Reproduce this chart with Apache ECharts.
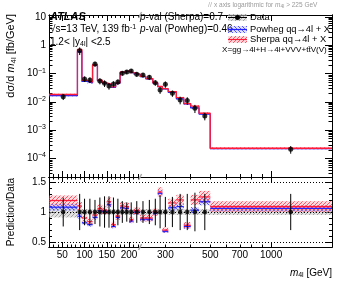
<!DOCTYPE html>
<html><head><meta charset="utf-8">
<script src="https://cdn.jsdelivr.net/npm/echarts@6/dist/echarts.min.js"></script>
<style>html,body{margin:0;padding:0;background:#fff}#c{width:349px;height:295px}</style>
</head><body><div id="c"></div>
<script>
// ---------------- data ----------------
const binEdges = [20,84,94,106,118,129,140,150,160,170,180,190,200,210,225,240,260,275,290,310,340,370,400,440,500,2000];
const dataValues = [0.0153,0.645,0.0645,0.0594,0.218,0.0548,0.0454,0.0365,0.043,0.0505,0.1025,0.114,0.124,0.094,0.089,0.074,0.0475,0.0263,0.042,0.0201,0.0117,0.0112,0.00594,0.00318,0.000211];
const dataRelErr = [0.24,0.30,0.22,0.22,0.20,0.24,0.26,0.26,0.24,0.22,0.18,0.16,0.16,0.18,0.18,0.20,0.22,0.27,0.25,0.25,0.30,0.30,0.32,0.30,0.30];
const dataSystRel = [0.09,0.05,0.05,0.05,0.05,0.05,0.05,0.05,0.05,0.05,0.05,0.05,0.05,0.05,0.05,0.05,0.05,0.05,0.05,0.05,0.05,0.05,0.05,0.05,0.05];
const sherpaRatio = [1.19,1.10,0.90,0.84,0.95,1.06,1.03,1.17,0.79,0.93,1.10,1.09,0.87,1.02,0.90,0.90,1.00,1.33,0.70,1.15,1.20,0.78,1.20,1.25,1.09];
const powhegRatio = [1.08,0.93,0.82,0.79,0.91,1.02,1.01,1.12,0.76,0.91,1.07,1.06,0.85,1.00,0.88,0.88,0.98,1.31,0.68,1.07,1.09,0.76,1.03,1.17,1.06];
const sherpaRelErr = [0.07,0.06,0.06,0.06,0.06,0.06,0.06,0.06,0.06,0.06,0.06,0.06,0.06,0.06,0.06,0.06,0.06,0.06,0.06,0.06,0.07,0.07,0.07,0.08,0.08];
const powhegRelErr = [0.05,0.04,0.04,0.04,0.04,0.04,0.04,0.04,0.04,0.04,0.04,0.04,0.04,0.04,0.04,0.04,0.04,0.04,0.04,0.04,0.05,0.05,0.05,0.05,0.05];
const xLabelValues = [50,100,150,200,300,500,700,1000];
const xMajorTicks = [50,100,150,200,1000];
const xMinorTicks = [30,40,60,70,80,90,110,120,130,140,160,170,180,190,210,220,300,400,500,600,700,800,900];
const yUpperDecades = [-4,-3,-2,-1,0,1];
const yRatioLabels = [0.5,1,1.5];
const yRatioMinor = [0.6,0.7,0.8,0.9,1.1,1.2,1.3,1.4];
const ratioRefLines = [0.5,1,1.5];

// ---------------- axis transform: linear below 225 GeV, log above ----------------
const LIN = 0.4444, M0 = 20, MB = 225, MMAX = 2000, TMAX = 283;
const TB = (MB - M0) * LIN;
const K = (TMAX - TB) / Math.log(MMAX / MB);
function tx(m){ return m <= MB ? (m - M0) * LIN : TB + K * Math.log(m / MB); }
const lg = v => Math.log10(v);

const nb = dataValues.length;
const tLo = [], tHi = [], tC = [];
for (let i = 0; i < nb; i++) { tLo.push(tx(binEdges[i])); tHi.push(tx(binEdges[i+1])); tC.push(tx((binEdges[i]+binEdges[i+1])/2)); }
const sherpaVals = dataValues.map((d,i)=>d*sherpaRatio[i]);
const powhegVals = dataValues.map((d,i)=>d*powhegRatio[i]);

function hatch(color, dir, bg){
  const c = document.createElement('canvas'); c.width = 4; c.height = 4;
  const g = c.getContext('2d');
  if (bg) { g.fillStyle = bg; g.fillRect(0,0,4,4); }
  g.strokeStyle = color; g.lineWidth = 1; g.beginPath();
  if (dir > 0) { g.moveTo(-1,5); g.lineTo(5,-1); } else { g.moveTo(-1,-1); g.lineTo(5,5); }
  g.stroke();
  return {image: c, repeat: 'repeat'};
}
const redHatch = hatch('rgba(255,40,60,0.75)', 1, 'rgba(255,150,160,0.35)');
const blueHatch = hatch('rgba(40,40,255,0.75)', -1, 'rgba(150,150,255,0.3)');
const grayHatch = hatch('rgba(120,120,120,0.6)', 1, 'rgba(200,200,200,0.5)');

const FONT = '"Liberation Sans", Arial, sans-serif';

function xAx(grid, pos, vals, len, labels){
  return {type:'value', gridIndex:grid, position:pos, min:0, max:TMAX,
    axisLine:{show:true, onZero:false, lineStyle:{color:'#000', width:1}},
    splitLine:{show:false},
    axisTick:{show:true, inside:true, length:len, customValues: vals.map(tx), lineStyle:{color:'#000', width:1}},
    axisLabel: labels ? {show:true, customValues: labels.map(tx), margin:3, fontSize:10, fontFamily:FONT, color:'#000',
      formatter: v => { for (const m of labels) if (Math.abs(tx(m)-v) < 0.01) return String(m); return ''; }} : {show:false}};
}
function yAx(grid, pos, min, max, vals, len, labels, fmt){
  return {type:'value', gridIndex:grid, position:pos, min, max,
    axisLine:{show:true, onZero:false, lineStyle:{color:'#000', width:1}},
    splitLine:{show:false},
    axisTick:{show:true, inside:true, length:len, customValues: vals, lineStyle:{color:'#000', width:1}},
    axisLabel: labels ? {show:true, customValues: labels, margin:3, fontSize:10, fontFamily:FONT, color:'#000', formatter: fmt,
      rich:{sup:{fontSize:7, fontFamily:FONT, verticalAlign:'top', padding:[0,0,6,0]}}} : {show:false}};
}
const uMin = -4.654, uMax = 1.07, rMin = 0.42, rMax = 1.58;
const upperMinor = [];
for (let k = -5; k <= 1; k++) for (let j = 2; j <= 9; j++) { const v = k + Math.log10(j); if (v > uMin && v < uMax) upperMinor.push(v); }
const upFmt = v => { const k = Math.round(v); if (k === 1) return '10'; if (k === 0) return '1'; return '10{sup|' + (k<0?'\u2212':'') + Math.abs(k) + '}'; };
const rFmt = v => String(v);

function rectSeries(xi, yi, items, fill, z){
  return {type:'custom', xAxisIndex:xi, yAxisIndex:yi, silent:true, clip:true, z,
    data: items, encode:{x:[0,1], y:[2,3]},
    renderItem(params, api){
      const a = api.coord([api.value(0), api.value(3)]);
      const b = api.coord([api.value(1), api.value(2)]);
      return {type:'rect', shape:{x:a[0], y:a[1], width:b[0]-a[0], height:b[1]-a[1]}, style:{fill, stroke:null}};
    }};
}
function segSeries(xi, yi, items, color, width, z){
  return {type:'custom', xAxisIndex:xi, yAxisIndex:yi, silent:true, clip:true, z,
    data: items, encode:{x:[0,2], y:[1,3]},
    renderItem(params, api){
      const a = api.coord([api.value(0), api.value(1)]);
      const b = api.coord([api.value(2), api.value(3)]);
      return {type:'line', shape:{x1:a[0], y1:a[1], x2:b[0], y2:b[1]}, style:{stroke:color, lineWidth:width}};
    }};
}
function stepData(vals){ const d = vals.map((v,i)=>[tLo[i], lg(v)]); d.push([tHi[nb-1], lg(vals[nb-1])]); return d; }

const series = [
  // upper panel
  rectSeries(0,0, powhegVals.map((v,i)=>[tLo[i],tHi[i],lg(v*(1-powhegRelErr[i])),lg(v*(1+powhegRelErr[i]))]), blueHatch, 1),
  rectSeries(0,0, sherpaVals.map((v,i)=>[tLo[i],tHi[i],lg(v*(1-sherpaRelErr[i])),lg(v*(1+sherpaRelErr[i]))]), redHatch, 2),
  {type:'line', xAxisIndex:0, yAxisIndex:0, step:'end', symbol:'none', silent:true, z:3, data: stepData(powhegVals), lineStyle:{color:'#2020ff', width:1.2}},
  {type:'line', xAxisIndex:0, yAxisIndex:0, step:'end', symbol:'none', silent:true, z:4, data: stepData(sherpaVals), lineStyle:{color:'#ff1a3a', width:1.3}},
  segSeries(0,0, dataValues.map((v,i)=>[tC[i], lg(v*(1-dataRelErr[i])), tC[i], lg(v*(1+dataRelErr[i]))]), '#000', 1, 5),
  {type:'scatter', xAxisIndex:0, yAxisIndex:0, silent:true, z:6, symbol:'circle', symbolSize:5, itemStyle:{color:'#000'},
    data: dataValues.map((v,i)=>[tC[i], lg(v)])},
  // lower panel
  rectSeries(4,4, dataSystRel.map((e,i)=>[tLo[i],tHi[i],1-e,1+e]), grayHatch, 1),
  rectSeries(4,4, powhegRatio.map((r,i)=>[tLo[i],tHi[i],r-powhegRelErr[i]*r,r+powhegRelErr[i]*r]), blueHatch, 2),
  rectSeries(4,4, sherpaRatio.map((r,i)=>[tLo[i],tHi[i],r-sherpaRelErr[i]*r,r+sherpaRelErr[i]*r]), redHatch, 3),
  segSeries(4,4, powhegRatio.map((r,i)=>[tLo[i], r, tHi[i], r]), '#2020ff', 1.2, 4),
  segSeries(4,4, sherpaRatio.map((r,i)=>[tLo[i], r, tHi[i], r]), '#ff1a3a', 1.2, 4),
  segSeries(4,4, dataRelErr.map((e,i)=>[tC[i], 1-e, tC[i], 1+e]), '#000', 1, 5),
  {type:'scatter', xAxisIndex:4, yAxisIndex:4, silent:true, z:6, symbol:'circle', symbolSize:4.5, itemStyle:{color:'#000'},
    data: tC.map(t=>[t,1]),
    markLine:{silent:true, symbol:'none', label:{show:false}, lineStyle:{color:'#000', width:1, type:[1,2]},
      data: ratioRefLines.map(v=>({yAxis:v}))}}
];

const grids = [{left:49, top:15, width:283, height:162}, {left:49, top:177, width:283, height:70}];
const xAxes = [
  xAx(0,'bottom',xMajorTicks,6,null), xAx(0,'bottom',xMinorTicks,3,null), xAx(0,'top',xMajorTicks,6,null), xAx(0,'top',xMinorTicks,3,null),
  xAx(1,'bottom',xMajorTicks,5,xLabelValues), xAx(1,'bottom',xMinorTicks,2.5,null), xAx(1,'top',xMajorTicks,5,null), xAx(1,'top',xMinorTicks,2.5,null)
];
const yAxes = [
  yAx(0,'left',uMin,uMax,yUpperDecades,7,yUpperDecades,upFmt), yAx(0,'left',uMin,uMax,upperMinor,3.5,null),
  yAx(0,'right',uMin,uMax,yUpperDecades,7,null), yAx(0,'right',uMin,uMax,upperMinor,3.5,null),
  yAx(1,'left',rMin,rMax,yRatioLabels,6,yRatioLabels,rFmt), yAx(1,'left',rMin,rMax,yRatioMinor,3,null),
  yAx(1,'right',rMin,rMax,yRatioLabels,6,null), yAx(1,'right',rMin,rMax,yRatioMinor,3,null)
];

const xBreak = 49 + TB;
const txt = (x, y, text, extra) => Object.assign({type:'text', x, y, silent:true, z:100,
  style:Object.assign({text, font:'10px ' + FONT, fill:'#000', verticalAlign:'middle'}, extra||{})});
const mkRich = fs => ({i:{fontStyle:'italic', fontSize:fs, fontFamily:FONT}, sub:{fontSize:fs*0.7, fontFamily:FONT, padding:[5,0,0,0]}, sup:{fontSize:fs*0.7, fontFamily:FONT, padding:[0,0,5,0]}});
const richBase = mkRich(10);

const titleY = txt(11, 14, 'd\u03C3/d {i|m}{sub|4l} [fb/GeV]', {align:'right', font:'11px ' + FONT, rich:mkRich(11)});
titleY.rotation = Math.PI/2;
const titleR = txt(11, 212, 'Prediction/Data', {align:'center'});
titleR.rotation = Math.PI/2;

const graphics = [
  txt(50, 17, 'ATLAS', {font:'bold italic 11px ' + FONT}),
  txt(50, 29.5, '\u221As=13 TeV, 139 fb{sup|-1}', {rich:richBase}),
  txt(50, 42, '1.2< |y{sub|4l}| <2.5', {rich:richBase}),
  txt(140, 17, '{i|p}-val (Sherpa)=0.7', {rich:richBase}),
  txt(140, 29.5, '{i|p}-val (Powheg)=0.46', {rich:richBase}),
  txt(250, 17.5, 'Data', {font:'9.3px ' + FONT}),
  txt(250, 29.5, 'Powheg qq\u21924l + X', {font:'9.3px ' + FONT}),
  txt(250, 39.5, 'Sherpa qq\u21924l + X', {font:'9.3px ' + FONT}),
  txt(222, 50, 'X=gg\u21924l+H\u21924l+VVV+t\u0074\u0304V(V)', {font:'8.1px ' + FONT}),
  // legend glyphs
  {type:'rect', shape:{x:228, y:14, width:19, height:7}, style:{fill:grayHatch}, silent:true, z:100},
  {type:'line', shape:{x1:228, y1:17.5, x2:247, y2:17.5}, style:{stroke:'#000', lineWidth:1}, silent:true, z:100},
  {type:'circle', shape:{cx:237.5, cy:17.5, r:2.5}, style:{fill:'#000'}, silent:true, z:100},
  {type:'rect', shape:{x:228, y:26, width:19, height:7}, style:{fill:blueHatch}, silent:true, z:100},
  {type:'line', shape:{x1:228, y1:29.5, x2:247, y2:29.5}, style:{stroke:'#2020ff', lineWidth:1.2}, silent:true, z:100},
  {type:'rect', shape:{x:228, y:36, width:19, height:7}, style:{fill:redHatch}, silent:true, z:100},
  {type:'line', shape:{x1:228, y1:39.5, x2:247, y2:39.5}, style:{stroke:'#ff1a3a', lineWidth:1.2}, silent:true, z:100},
  // note on the x axis
  txt(214, 5, 'x axis logarithmic for {i|m}{sub|4l} > 225 GeV', {fill:'#9a9a9a', font:'6.5px ' + FONT,
    rich:{i:{fontStyle:'italic', fontSize:6.5, fontFamily:FONT, color:'#9a9a9a'}, sub:{fontSize:5, fontFamily:FONT, color:'#9a9a9a', padding:[3,0,0,0]}}}),
  txt(208, 5, '//', {fill:'#aaa', font:'7px ' + FONT}),
  // axis titles
  titleY, titleR,
  txt(332, 273, '{i|m}{sub|4l} [GeV]', {align:'right', rich:richBase})
];
// axis break markers
[15, 177, 247].forEach(y => graphics.push({type:'line', shape:{x1:xBreak-1.5, y1:y+3, x2:xBreak+1.5, y2:y-3}, style:{stroke:'#aaa', lineWidth:1.5}, silent:true, z:100}));

const chart = echarts.init(document.getElementById('c'), null, {renderer:'canvas'});
chart.setOption({animation:false, backgroundColor:'#fff', grid:grids, xAxis:xAxes, yAxis:yAxes, series, graphic:graphics});
</script></body></html>
